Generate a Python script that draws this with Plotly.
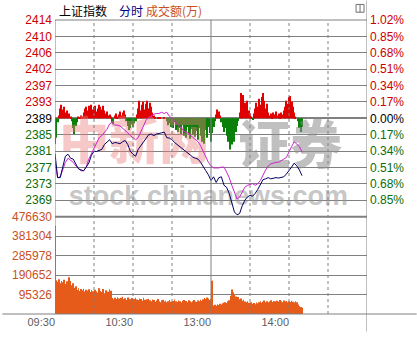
import plotly.graph_objects as go

# ---------------- data ----------------
PREV_CLOSE = 2389.3  # 上证指数 昨收

pct_steps = [1.02, 0.85, 0.68, 0.51, 0.34, 0.17, 0.00, -0.17, -0.34, -0.51, -0.68, -0.85]
price_labels = ["2414", "2410", "2406", "2402", "2397", "2393", "2389",
                "2385", "2381", "2377", "2373", "2369"]
pct_labels = ["1.02%", "0.85%", "0.68%", "0.51%", "0.34%", "0.17%", "0.00%",
              "0.17%", "0.34%", "0.51%", "0.68%", "0.85%"]
vol_ticks = [95326, 190652, 285978, 381304, 476630]
VOL_MAX = 476630
time_ticks = [0, 60, 120, 180]          # minutes after 09:30 (trading minutes)
time_labels = ["09:30", "10:30", "13:00", "14:00"]

line_minutes = list(range(0, 191, 2))
index_price = [
    2380.6, 2374.6, 2374.6, 2377.0, 2379.9, 2380.4, 2379.4, 2379.2, 2378.0, 2376.8,
    2376.5, 2376.3, 2377.2, 2378.2, 2380.1, 2381.1, 2381.1, 2381.3, 2381.6, 2382.8,
    2383.5, 2384.0, 2383.0, 2383.3, 2383.2, 2383.0, 2383.5, 2383.8, 2382.8, 2381.1,
    2380.4, 2379.9, 2381.6, 2382.5, 2383.5, 2384.5, 2385.2, 2385.4, 2385.0, 2385.4,
    2385.5, 2385.7, 2385.9, 2384.5, 2384.4, 2384.0, 2383.3, 2382.8, 2382.3, 2381.8,
    2381.1, 2380.6, 2380.1, 2379.7, 2379.4, 2379.2, 2378.4, 2377.5, 2376.3, 2375.3,
    2373.9, 2374.8, 2373.4, 2374.6, 2374.8, 2372.7, 2372.2, 2370.7, 2368.6, 2366.1,
    2365.4, 2365.7, 2367.6, 2369.0, 2369.8, 2370.2, 2370.0, 2370.7, 2371.7, 2373.1,
    2374.1, 2374.3, 2374.6, 2374.3, 2374.4, 2374.6, 2374.5, 2374.6, 2374.8, 2375.5,
    2376.3, 2377.2, 2378.2, 2377.5, 2376.5, 2375.1]
index_unweighted = [
    2378.7, 2374.6, 2374.8, 2376.5, 2378.4, 2379.4, 2378.9, 2378.4, 2377.5, 2376.8,
    2376.3, 2376.3, 2377.2, 2379.2, 2380.6, 2381.6, 2383.0, 2384.5, 2385.0, 2385.7,
    2386.6, 2387.9, 2388.3, 2387.6, 2387.6, 2387.4, 2386.9, 2386.4, 2385.7, 2385.0,
    2384.5, 2384.0, 2384.5, 2385.9, 2387.1, 2388.8, 2389.5, 2390.0, 2390.3, 2390.5,
    2390.5, 2390.8, 2390.5, 2390.8, 2389.8, 2389.3, 2388.6, 2387.9, 2387.1, 2386.4,
    2385.9, 2385.7, 2385.2, 2384.7, 2384.2, 2383.5, 2382.5, 2381.1, 2379.9, 2378.4,
    2377.5, 2377.0, 2377.0, 2377.0, 2377.2, 2377.2, 2376.0, 2374.6, 2372.7, 2370.7,
    2369.3, 2369.8, 2371.2, 2372.2, 2372.7, 2372.9, 2373.1, 2372.7, 2373.1, 2373.9,
    2375.3, 2376.5, 2377.5, 2378.0, 2378.2, 2378.4, 2378.4, 2378.7, 2379.2, 2379.6,
    2381.1, 2382.3, 2383.5, 2383.0, 2382.3, 2380.9]

bar_minutes = list(range(0, 191))
lead_strength = [
    -26, -20, -4, 3, 10, 14, 9, 12, 6, 8,
    4, 5, 2, -3, -10, -16, -8, -4, 2, 1,
    3, 2, 6, 10, 12, 8, 13, 11, 14, 9,
    12, 13, 7, 10, 14, 12, 9, 13, 8, 5,
    7, 3, 4, 2, -4, -6, 3, 5, 2, 4,
    7, 3, 6, 8, 4, -3, -8, -12, -10, -6,
    -9, -5, -3, 4, 10, 18, 8, 14, 17, 9,
    15, 18, 10, 16, 12, 6, 3, 1, 0, 1,
    0, 1, 0, 0, 1, 0, -3, -7, -5, -9,
    -6, -10, -4, -12, -8, -14, -10, -16, -7, -18,
    -12, -20, -9, -15, -21, -11, -17, -8, -19, -13,
    -22, -10, -18, -24, -14, -26, -12, -20, -9, -15,
    -24, -15, -9, -3, 4, 9, 7, 3, -4, -9,
    -14, -10, -18, -24, -20, -32, -27, -20, -24, -14,
    -8, -3, 6, 26, 20, 24, 16, 12, 18, 8,
    5, 2, -1, 5, 10, 16, 12, 20, 14, 22,
    26, 18, 10, 15, 6, 3, 5, 2, 6, 4,
    7, 3, 5, 2, 6, 4, 8, 12, 18, 15,
    22, 23, 17, 12, 6, 2, 0, -3, -10, -14,
    -9]
turnover = [  # 成交额(万)
    432000, 165000, 158000, 170000, 150000, 162000, 155000, 168000, 147000, 160000,
    152000, 180000, 162000, 141000, 150000, 128000, 136000, 118000, 126000, 113000,
    122000, 116000, 124000, 110000, 119000, 114000, 121000, 108000, 117000, 112000,
    106000, 119000, 111000, 104000, 126000, 113000, 108000, 123000, 102000, 116000,
    98000, 109000, 121000, 114000, 78000, 72000, 80000, 74000, 82000, 76000,
    70000, 79000, 84000, 73000, 77000, 69000, 81000, 75000, 72000, 78000,
    66000, 74000, 80000, 71000, 68000, 76000, 73000, 65000, 79000, 70000,
    64000, 72000, 75000, 67000, 62000, 71000, 68000, 60000, 66000, 73000,
    63000, 58000, 67000, 70000, 61000, 65000, 57000, 62000, 68000, 60000,
    55000, 64000, 71000, 63000, 59000, 66000, 62000, 56000, 65000, 69000,
    60000, 64000, 58000, 67000, 62000, 57000, 63000, 68000, 61000, 59000,
    66000, 62000, 70000, 64000, 72000, 78000, 74000, 81000, 76000, 69000,
    73000, 163000, 42000, 45000, 40000, 48000, 44000, 50000, 47000, 53000,
    55000, 58000, 54000, 62000, 67000, 88000, 120000, 106000, 96000, 86000,
    79000, 83000, 72000, 76000, 65000, 70000, 61000, 58000, 63000, 55000,
    52000, 57000, 50000, 54000, 48000, 56000, 51000, 58000, 62000, 55000,
    60000, 66000, 58000, 63000, 57000, 61000, 67000, 59000, 64000, 62000,
    56000, 65000, 60000, 68000, 63000, 58000, 66000, 61000, 64000, 57000,
    62000, 59000, 65000, 60000, 56000, 63000, 58000, 46000, 38000, 34000,
    30000]

# ---------------- styles ----------------
RED = "#cc0000"
GREEN = "#0a6e0a"
BLACK = "#000000"
VOLC = "#c8501e"
GRID = "#808080"
FONT = "Liberation Sans"


def tick_color(p):
    return RED if p > 0 else (BLACK if p == 0 else GREEN)


left_text = [f"<span style='color:{tick_color(p)}'>{t}</span>" for p, t in zip(pct_steps, price_labels)]
right_text = [f"<span style='color:{tick_color(p)}'>{t}</span>" for p, t in zip(pct_steps, pct_labels)]
price_tickvals = [PREV_CLOSE * (1 + p / 100) for p in pct_steps]
bar_colors = ["#e00000" if v >= 0 else "#0a800a" for v in lead_strength]

W, H = 417, 340
ML, MR, MT, MB = 53, 50, 20, 18
PW, PH = W - ML - MR, H - MT - MB
VOL_H = 100
split = VOL_H / PH
PRICE_DOM = [split, 1]
VOL_DOM = [0, split]
IND = 101  # indicator half range

fig = go.Figure()

# watermark (drawn first, underneath everything)
fig.add_trace(go.Scatter(
    x=[61], y=[-29], mode="text", text=["中新网"], xaxis="x", yaxis="y",
    textfont=dict(family="Noto Sans CJK SC", size=50, color="rgba(235,125,125,0.42)", weight=900),
    hoverinfo="skip"))
fig.add_trace(go.Scatter(
    x=[181], y=[-34], mode="text", text=["证券"], xaxis="x", yaxis="y",
    textfont=dict(family="Noto Sans CJK SC", size=52, color="rgba(140,140,140,0.55)", weight=900),
    hoverinfo="skip"))
fig.add_trace(go.Scatter(
    x=[118], y=[-82], mode="text", text=["stock.chinanews.com"], xaxis="x", yaxis="y",
    textfont=dict(family=FONT, size=27, color="rgba(150,150,150,0.55)", weight="bold"),
    hoverinfo="skip"))

# red / green strength bars
fig.add_trace(go.Bar(x=bar_minutes, y=lead_strength, xaxis="x", yaxis="y",
                     marker=dict(color=bar_colors, line=dict(width=0)), width=0.8,
                     hoverinfo="skip"))

# index lines
fig.add_trace(go.Scatter(x=line_minutes, y=index_unweighted, xaxis="x", yaxis="y2",
                         mode="lines", line=dict(color="#cc22cc", width=1)))
fig.add_trace(go.Scatter(x=line_minutes, y=index_price, xaxis="x", yaxis="y2",
                         mode="lines", line=dict(color="#000060", width=1)))
# percent axis carrier (invisible)
fig.add_trace(go.Scatter(x=[0], y=[0], xaxis="x", yaxis="y3", mode="markers",
                         marker=dict(size=1, color="rgba(0,0,0,0)"), hoverinfo="skip"))

# volume bars
fig.add_trace(go.Bar(x=bar_minutes, y=turnover, xaxis="x", yaxis="y4",
                     marker=dict(color="#e65a1a", line=dict(width=0)), width=0.6,
                     hoverinfo="skip"))

tickfont = dict(family=FONT, size=12)

shapes = []
# vertical grid lines
for m in [30, 60, 90, 150, 180, 210]:
    shapes.append(dict(type="line", xref="x", yref="paper", x0=m, x1=m, y0=0, y1=1,
                       line=dict(color=GRID, width=1, dash="dot")))
for m in [0, 120]:
    shapes.append(dict(type="line", xref="x", yref="paper", x0=m, x1=m, y0=0, y1=1,
                       line=dict(color=GRID, width=1)))
shapes.append(dict(type="line", xref="x", yref="paper", x0=240, x1=240,
                   y0=-MB / PH, y1=(PH + MT) / PH, line=dict(color=GRID, width=1)))
# frame horizontals
shapes.append(dict(type="line", xref="paper", yref="paper", x0=0, x1=1, y0=1, y1=1,
                   line=dict(color=GRID, width=1)))
shapes.append(dict(type="line", xref="paper", yref="paper", x0=0, x1=1, y0=split, y1=split,
                   line=dict(color=GRID, width=2)))
shapes.append(dict(type="line", xref="paper", yref="paper", x0=-ML / PW, x1=(PW + MR) / PW,
                   y0=0, y1=0, line=dict(color=GRID, width=1)))
# small window icon top right
ix0, ix1 = (356 - ML) / PW, (364 - ML) / PW
iy0, iy1 = (PH + MT - 12) / PH, (PH + MT - 4) / PH
shapes.append(dict(type="rect", xref="paper", yref="paper", x0=ix0, x1=ix1, y0=iy0, y1=iy1,
                   line=dict(color="#707070", width=1)))
shapes.append(dict(type="line", xref="paper", yref="paper", x0=(ix0 + ix1) / 2, x1=(ix0 + ix1) / 2,
                   y0=iy0, y1=iy1, line=dict(color="#707070", width=1)))

hy = (PH + MT - 10) / PH
annotations = [
    dict(text="上证指数", x=(55 - ML) / PW, y=hy, xref="paper", yref="paper",
         xanchor="left", yanchor="middle", showarrow=False,
         font=dict(family="Noto Sans CJK SC", size=12, color="#000000")),
    dict(text="分时", x=(115 - ML) / PW, y=hy, xref="paper", yref="paper",
         xanchor="left", yanchor="middle", showarrow=False,
         font=dict(family="Noto Sans CJK SC", size=12, color="#000080")),
    dict(text="成交额(万)", x=(143 - ML) / PW, y=hy, xref="paper", yref="paper",
         xanchor="left", yanchor="middle", showarrow=False,
         font=dict(family="Noto Sans CJK SC", size=12, color=VOLC)),
]

fig.update_layout(
    width=W, height=H, margin=dict(l=ML, r=MR, t=MT, b=MB, pad=0),
    paper_bgcolor="white", plot_bgcolor="white", showlegend=False, barmode="overlay",
    xaxis=dict(range=[0, 240], anchor="y4", tickvals=time_ticks, ticktext=time_labels,
               ticklabelposition="outside left", showgrid=False, zeroline=False, ticks="",
               tickfont=dict(family=FONT, size=11, color="#606060"), fixedrange=True),
    yaxis=dict(domain=PRICE_DOM, anchor="x", range=[-IND, IND], showticklabels=False,
               showgrid=False, zeroline=True, zerolinecolor=GRID, zerolinewidth=2,
               ticks="", fixedrange=True),
    yaxis2=dict(overlaying="y", anchor="x", side="left", range=[PREV_CLOSE * (1 - 0.0102), PREV_CLOSE * (1 + 0.0102)],
                tickvals=price_tickvals, ticktext=left_text, showgrid=True, gridcolor=GRID, gridwidth=1,
                zeroline=False, ticks="", tickfont=tickfont, ticklabelstandoff=2, fixedrange=True),
    yaxis3=dict(overlaying="y", anchor="x", side="right", range=[-1.02, 1.02],
                tickvals=pct_steps, ticktext=right_text, showgrid=False, zeroline=False,
                ticks="", tickfont=tickfont, ticklabelstandoff=2, fixedrange=True),
    yaxis4=dict(domain=VOL_DOM, anchor="x", range=[0, VOL_MAX], tickvals=vol_ticks,
                ticktext=[str(v) for v in vol_ticks], showgrid=True, gridcolor=GRID, gridwidth=1,
                zeroline=False, ticks="", tickfont=dict(family=FONT, size=12, color=VOLC),
                ticklabelstandoff=2, fixedrange=True),
    shapes=shapes, annotations=annotations,
)

fig.write_html("out.html", config={"displayModeBar": False})
